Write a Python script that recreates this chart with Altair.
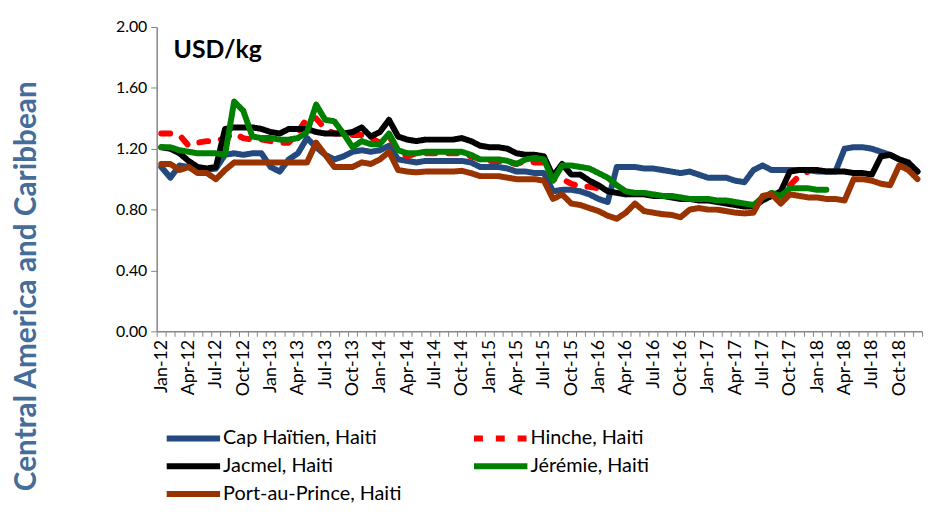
import altair as alt
import pandas as pd

month_names = ["Jan", "Feb", "Mar", "Apr", "May", "Jun", "Jul", "Aug", "Sep", "Oct", "Nov", "Dec"]
years = ["12", "13", "14", "15", "16", "17", "18"]
months = [f"{m}-{y}" for y in years for m in month_names]

series_names = ["Cap Haïtien, Haiti", "Hinche, Haiti", "Jacmel, Haiti", "Jérémie, Haiti", "Port-au-Prince, Haiti"]
series_colors = ["#23497e", "#ff0000", "#000000", "#008000", "#993300"]
series_dashes = [[1, 0], [9, 13], [1, 0], [1, 0], [1, 0]]

cap_haitien = [
    1.08, 1.01, 1.09, 1.08, 1.06, 1.06, 1.07, 1.16, 1.17, 1.16, 1.17, 1.17,
    1.08, 1.05, 1.13, 1.17, 1.27, 1.21, 1.16, 1.13, 1.15, 1.18, 1.19, 1.18,
    1.19, 1.22, 1.13, 1.12, 1.11, 1.12, 1.12, 1.12, 1.12, 1.12, 1.11, 1.08,
    1.08, 1.08, 1.07, 1.05, 1.05, 1.04, 1.04, 0.92, 0.93, 0.93, 0.92, 0.90,
    0.87, 0.85, 1.08, 1.08, 1.08, 1.07, 1.07, 1.06, 1.05, 1.04, 1.05, 1.03,
    1.01, 1.01, 1.01, 0.99, 0.98, 1.06, 1.09, 1.06, 1.06, 1.06, 1.06, 1.06,
    1.05, 1.05, 1.05, 1.20, 1.21, 1.21, 1.20, 1.18, 1.16, 1.13, 1.10, 1.05,
]
hinche = [
    1.30, 1.30, 1.29, 1.22, 1.24, 1.25, 1.25, 1.27, 1.30, 1.27, 1.26, 1.26,
    1.25, 1.24, 1.24, 1.31, 1.40, 1.40, 1.33, 1.30, 1.30, 1.29, 1.29, 1.27,
    1.24, 1.28, 1.19, 1.15, 1.17, 1.17, 1.17, 1.17, 1.17, 1.17, 1.15, 1.13,
    1.12, 1.12, 1.11, 1.10, 1.12, 1.11, 1.11, 1.00, 1.00, 0.97, 0.95, 0.95,
    0.94, None, None, None, None, None, None, None, None, None, None, None,
    None, None, None, None, None, None, None, None, None, 0.96, 1.02, 1.05,
    None, None, None, None, None, None, None, None, None, None, None, None,
]
jacmel = [
    1.21, 1.20, 1.17, 1.12, 1.08, 1.07, 1.08, 1.33, 1.34, 1.34, 1.34, 1.33,
    1.31, 1.30, 1.33, 1.33, 1.33, 1.31, 1.30, 1.30, 1.30, 1.31, 1.34, 1.28,
    1.31, 1.39, 1.28, 1.26, 1.25, 1.26, 1.26, 1.26, 1.26, 1.27, 1.25, 1.22,
    1.21, 1.21, 1.20, 1.17, 1.16, 1.16, 1.15, 1.02, 1.10, 1.03, 1.03, 0.99,
    0.96, 0.92, 0.91, 0.90, 0.90, 0.90, 0.89, 0.89, 0.88, 0.87, 0.87, 0.86,
    0.86, 0.85, 0.84, 0.83, 0.82, 0.82, 0.86, 0.89, 0.92, 1.05, 1.06, 1.06,
    1.06, 1.05, 1.05, 1.05, 1.04, 1.04, 1.03, 1.15, 1.16, 1.13, 1.11, 1.05,
]
jeremie = [
    1.21, 1.21, 1.19, 1.18, 1.17, 1.17, 1.17, 1.16, 1.51, 1.45, 1.28, 1.27,
    1.27, 1.26, 1.26, 1.27, 1.31, 1.49, 1.39, 1.38, 1.30, 1.21, 1.25, 1.23,
    1.23, 1.30, 1.19, 1.17, 1.17, 1.18, 1.18, 1.18, 1.18, 1.18, 1.16, 1.13,
    1.13, 1.13, 1.12, 1.10, 1.13, 1.14, 1.13, 0.99, 1.09, 1.09, 1.08, 1.07,
    1.04, 1.01, 0.96, 0.92, 0.91, 0.91, 0.90, 0.89, 0.89, 0.88, 0.87, 0.87,
    0.87, 0.86, 0.86, 0.85, 0.84, 0.83, 0.88, 0.91, 0.89, 0.94, 0.94, 0.94,
    0.93, 0.93, None, None, None, None, None, None, None, None, None, None,
]
port_au_prince = [
    1.10, 1.10, 1.06, 1.08, 1.04, 1.04, 1.00, 1.06, 1.11, 1.11, 1.11, 1.11,
    1.11, 1.11, 1.11, 1.11, 1.11, 1.24, 1.16, 1.08, 1.08, 1.08, 1.11, 1.10,
    1.13, 1.18, 1.06, 1.05, 1.045, 1.05, 1.05, 1.05, 1.05, 1.055, 1.04, 1.02,
    1.02, 1.02, 1.01, 1.00, 1.00, 1.00, 0.99, 0.87, 0.90, 0.84, 0.83, 0.81,
    0.79, 0.76, 0.74, 0.78, 0.84, 0.79, 0.78, 0.77, 0.765, 0.75, 0.80, 0.81,
    0.80, 0.80, 0.79, 0.78, 0.775, 0.78, 0.89, 0.90, 0.84, 0.90, 0.89, 0.88,
    0.88, 0.87, 0.87, 0.86, 1.00, 1.00, 0.99, 0.97, 0.96, 1.09, 1.06, 1.00,
]

all_series = [cap_haitien, hinche, jacmel, jeremie, port_au_prince]

rows = []
for k, (name, vals) in enumerate(zip(series_names, all_series)):
    seg = 0
    gap = True
    for i, (m, v) in enumerate(zip(months, vals)):
        if v is None:
            gap = True
            continue
        if gap:
            seg += 1
            gap = False
        rows.append({"month": m, "idx": i, "market": name, "price": v, "seg": f"s{k}-{seg}"})
df = pd.DataFrame(rows)

FONT = "Lato"
GRAY = "#868686"

legend = alt.Legend(
    orient="none", legendX=10, legendY=405, columns=2, direction="horizontal", title=None,
    symbolType="M-5,0H5", symbolSize=116, symbolStrokeWidth=6, symbolOffset=17,
    labelOffset=20, labelFont=FONT, labelFontSize=20, labelColor="#000000",
    rowPadding=4, columnPadding=61, padding=0, labelLimit=400,
)

label_expr = (
    "indexof(['Jan','Apr','Jul','Oct'], substring('' + datum.label, 0, 3)) >= 0"
    " ? '' + datum.label : ''"
)

lines = alt.Chart(df).mark_line(strokeWidth=6, strokeCap="round", strokeJoin="round").encode(
    x=alt.X(
        "month:O", sort=months,
        scale=alt.Scale(type="band", domain=months, paddingInner=0, paddingOuter=0),
        axis=alt.Axis(
            title=None, tickBand="extent", labelAngle=270, labelOverlap=False,
            labelExpr=label_expr,
            labelFont=FONT, labelFontSize=18, labelColor="#000000", labelPadding=3,
            tickSize=5, tickColor=GRAY, domainColor=GRAY, domainWidth=1.5,
        ),
    ),
    y=alt.Y(
        "price:Q", scale=alt.Scale(domain=[0, 2]),
        axis=alt.Axis(
            values=[0, 0.4, 0.8, 1.2, 1.6, 2.0], format=".2f", grid=False,
            title="Central America and Caribbean", titleFont=FONT, titleFontSize=30,
            titleFontWeight="bold", titleColor="#456d99", titleAngle=270,
            titleX=-131, titleY=261, titleAlign="center", titleBaseline="middle",
            labelFont=FONT, labelFontSize=16, labelColor="#000000", labelPadding=4,
            tickSize=6, tickColor=GRAY, domainColor=GRAY, domainWidth=1.5,
        ),
    ),
    color=alt.Color("market:N", scale=alt.Scale(domain=series_names, range=series_colors), legend=legend),
    strokeDash=alt.StrokeDash("market:N", scale=alt.Scale(domain=series_names, range=series_dashes), legend=legend),
    detail="seg:N",
    order="idx:Q",
)

unit = alt.Chart(pd.DataFrame({"t": ["USD/kg"]})).mark_text(
    align="left", baseline="alphabetic", font=FONT, fontSize=25, fontWeight="bold", color="#000000"
).encode(x=alt.value(17), y=alt.value(31), text="t:N")

chart = alt.layer(lines, unit).properties(
    width=772, height=307, autosize="none",
    padding={"left": 150, "top": 17, "right": 1, "bottom": 174},
).configure_view(stroke=None)

chart.save("out.html", embed_options={"renderer": "svg", "actions": False})
